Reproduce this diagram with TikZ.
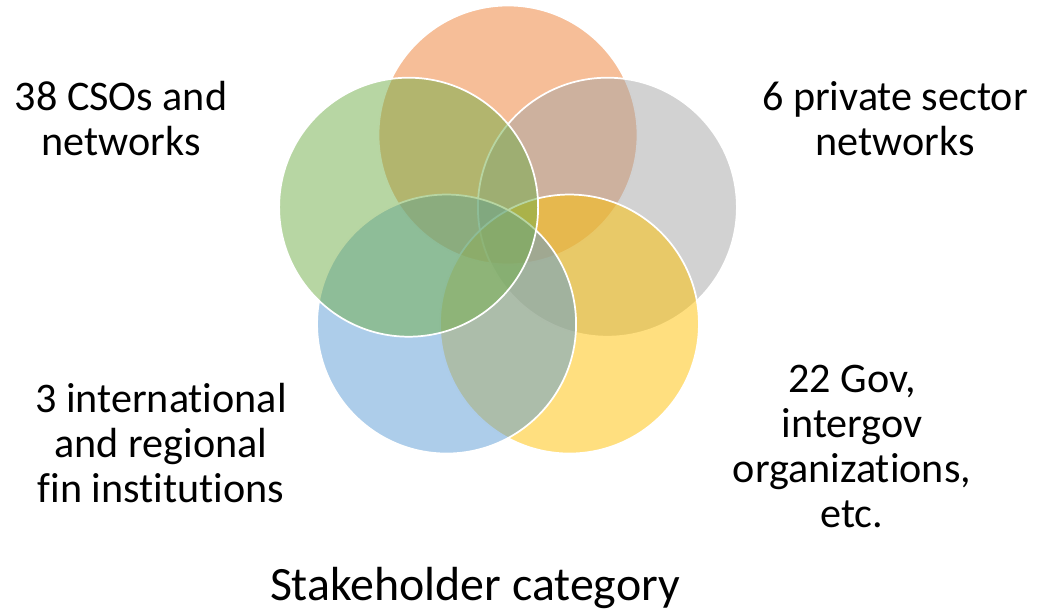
\documentclass[tikz,border=0pt]{standalone}
\usepackage{fontspec}
\setmainfont{Carlito}[RawFeature=-liga]
\usepackage{tikz}
\usetikzlibrary{positioning,calc}

\definecolor{vorange}{HTML}{ED7D31}
\definecolor{vgrey}{HTML}{A5A5A5}
\definecolor{vyellow}{HTML}{FFC000}
\definecolor{vblue}{HTML}{5B9BD5}
\definecolor{vgreen}{HTML}{70AD47}

\begin{document}
\begin{tikzpicture}[
    x=0.75pt, y=0.75pt,
    ring/.style={circle, draw=white, line width=1.3pt, fill opacity=0.5, minimum size=194.25pt, inner sep=0pt},
    group text/.style={font=\fontsize{31.6}{33.9}\selectfont, align=center},
    caption text/.style={font=\fontsize{35.9}{40}\selectfont, anchor=base}
]
    \useasboundingbox (0,0) rectangle (1038,610);

    % Circles
    \coordinate (mid) at (508,370.5);
    \foreach \ang/\name/\col in {90/orange/vorange, 18/grey/vgrey, -54/yellow/vyellow, -126/blue/vblue, 162/green/vgreen} {
        \node[ring, fill=\col] (\name) at ($(mid)+(\ang:104.5)$) {};
    }

    % Labels
    \node[group text] (cso) at (121,491.5) {38 CSOs and\\networks};
    \node[group text] (private) at (895,491.5) {6 private sector\\networks};
    \node[group text] (fin) at (161,167) {3 international\\and regional\\fin institutions};
    \node[group text] (gov) at (852,163.5) {22 Gov,\\intergov\\organizations,\\etc.};
    \node[caption text] (caption) at (475,10) {Stakeholder category};
\end{tikzpicture}
\end{document}
